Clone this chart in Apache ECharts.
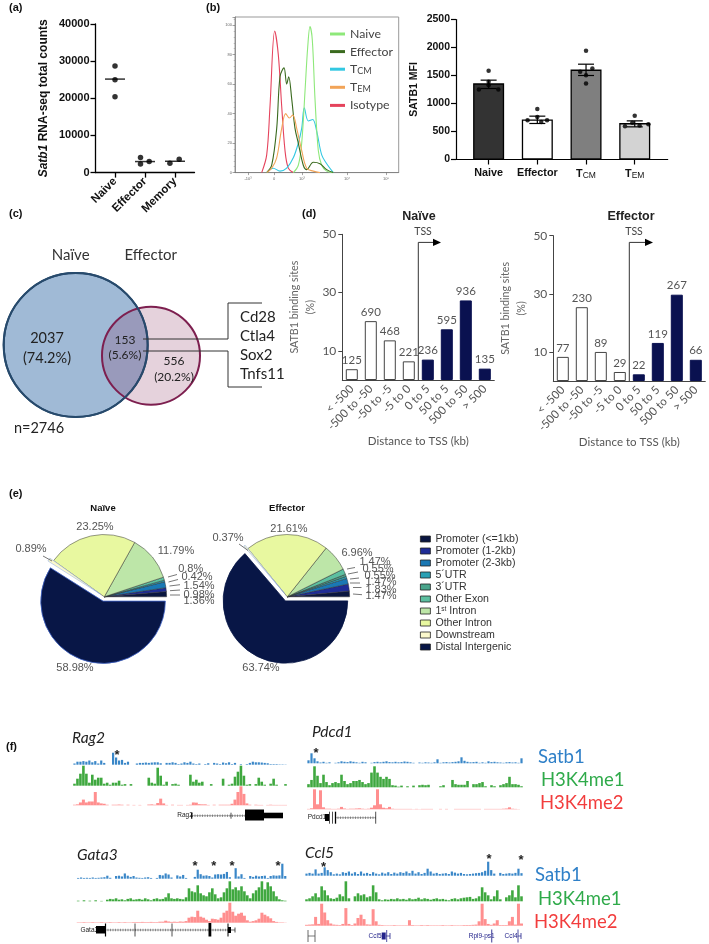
<!DOCTYPE html>
<html><head><meta charset="utf-8">
<script src="https://cdn.jsdelivr.net/npm/echarts@6/dist/echarts.min.js"></script>
<style>html,body{margin:0;padding:0;background:#fff}#c{width:709px;height:944px}</style>
</head><body><div id="c"></div>
<script>
// ---------- panel (a)
const rnaCategories = ['Naive','Effector','Memory'];
const rnaPointsX = [0.65,0.65,0.65,1.5,1.5,1.79,2.48,2.79];
const rnaPointsY = [28700,25000,20400,4045,2340,2970,2517,3595];
const rnaMedians = [25170,2970,3050];
// ---------- panel (b) histogram: [channel, % of max]
const histIsotype = [[26.7,0],[31.7,12],[35,45],[39.7,96],[43.3,80],[46.7,45],[50,15],[53.3,3],[58.3,0]];
const histEffector = [[31.7,0],[36.7,5],[41.7,30],[45,65],[49,71],[51.7,60],[53.7,65],[56.7,50],[60,30],[63.3,20],[68.3,5],[71.7,2],[78.3,7],[85,6],[91.7,2],[98.3,0]];
const histTem = [[31.7,0],[36.7,3],[41.7,10],[46.7,30],[50.7,40],[54.3,37],[57.7,39],[61.7,30],[66.7,15],[71.7,3],[78.3,1],[85,0]];
const histTcm = [[31.7,0],[38.3,3],[45,1],[51.7,3],[58.3,10],[63.3,20],[66.7,30],[69.3,44],[73.3,35],[77.7,36],[81.7,28],[86.7,12],[91.7,6],[98.3,0]];
const histNaive = [[58.3,0],[63.3,5],[66.7,20],[70,55],[72.7,85],[75,99],[77.3,90],[80,50],[83.3,15],[86.7,5],[91.7,1],[98.3,0]];
const histTickValues = [13,39,67,112,151];
const histTickLabels = ['-10³','0','10³','10⁴','10⁵'];
// ---------- panel (b) bars
const mfiCategories = ['Naive','Effector','TCM','TEM'];
const mfiMeans = [1360,715,1605,650];
const mfiUpper = [1417,774,1702,690];
const mfiLower = [1268,643,1500,583];
const mfiPointsX = [0.67,0.67,0.47,0.87,0.67, 1.67,1.67,1.47,1.87,1.75, 2.67,2.8,2.55,2.67,2.67, 3.67,3.47,3.62,3.77,3.95];
const mfiPointsY = [1583,1387,1250,1250,1327, 900,760,700,700,670, 1940,1625,1565,1505,1357, 780,595,655,607,630];
// ---------- panel (c)
const vennCounts = ['2037','153','556'];
const vennPercents = ['(74.2%)','(5.6%)','(20.2%)'];
const vennGenes = ['Cd28','Ctla4','Sox2','Tnfs11'];
// ---------- panel (d)
const tssCategories = ['< -500','-500 to -50','-50 to -5','-5 to 0','0 to 5','50 to 5','500 to 50','> 500'];
const naivePercent = [3.7,20.2,13.6,6.4,7,17.4,27.3,3.9];
const naiveCounts = [125,690,468,221,236,595,936,135];
const effectorPercent = [8.3,25.4,10,3.1,2.3,13.1,29.7,7.3];
const effectorCounts = [77,230,89,29,22,119,267,66];
// ---------- panel (e)
const featureNames = ['Promoter (<=1kb)','Promoter (1-2kb)','Promoter (2-3kb)',"5´UTR","3´UTR",'Other Exon','1st Intron','Other Intron','Downstream','Distal Intergenic'];
const featureColors = ['#0a1640','#1f2c96','#1a78b4','#2aa0b4','#4aa58c','#5cbfa0','#bde6a8','#e8f8a0','#fbf8cc','#081646'];
const naivePie = [1.36,0.98,1.54,0.42,null,0.8,11.79,23.25,0.89,58.98];
const effectorPie = [1.47,1.83,1.47,0.55,0.55,1.47,6.96,21.61,0.37,63.74];
// ---------- panel (f) signal tracks (0-100 of track height)
const rag2Satb1 = [10,25,25,30,25,35,20,30,10,35,15,0,0,100,60,35,40,15,25,0,0,10,15,15,18,15,18,20,20,12,0,15,15,20,15,5,10,20,15,25,10,5,10,0,5,12,0,15,10,5,18,12,20,5,15,0,5,0,5,15,25,20,20,18,15,12,5,5,5,3,3,2];
const rag2H3K4me1 = [10,35,60,100,60,15,55,30,40,40,10,15,5,15,15,25,5,8,0,8,0,0,0,0,0,40,15,10,90,50,5,20,0,8,10,5,0,0,0,55,20,30,15,20,0,0,8,0,0,0,35,0,5,10,45,70,100,50,5,8,0,8,40,20,5,0,10,35,5,0,0,8];
const rag2H3K4me2 = [3,5,15,30,15,20,20,70,15,10,8,3,0,3,3,4,3,0,3,0,2,0,2,0,0,4,5,3,12,35,10,2,0,3,0,2,2,0,2,3,15,14,6,5,5,2,0,3,0,3,3,3,3,8,30,70,100,60,10,3,0,3,2,2,0,2,3,2,2,2,2,2];
const pdcd1Satb1 = [30,100,50,20,8,15,5,10,0,5,10,20,15,12,20,15,10,5,15,10,0,5,12,15,10,15,20,12,10,15,10,12,18,15,10,5,0,8,5,10,8,5,10,40,5,10,12,8,12,15,20,60,25,15,10,12,15,5,10,5,20,12,15,10,8,5,10,12,8,10,5,50];
const pdcd1H3K4me1 = [15,35,100,55,20,60,25,10,20,25,20,60,30,15,20,30,30,35,25,15,20,70,100,70,50,40,50,40,10,8,3,8,0,5,0,8,0,10,12,10,12,0,0,0,5,10,0,0,35,15,12,12,12,30,0,15,15,20,25,5,0,10,5,0,10,15,20,50,15,15,12,5];
const pdcd1H3K4me2 = [2,5,100,25,95,10,3,3,2,2,3,12,4,2,3,3,4,5,3,2,3,8,20,100,25,8,5,12,3,2,2,2,2,2,2,1,2,1,2,2,2,2,0,0,2,0,2,0,0,2,2,2,2,2,2,2,2,2,0,2,2,2,2,2,2,3,4,10,3,2,1,0];
const gata3Satb1 = [5,8,5,6,5,8,5,6,8,10,20,6,0,18,20,15,35,20,12,18,8,6,5,8,10,5,0,5,25,22,35,28,8,0,22,15,25,5,0,0,12,60,30,20,22,18,8,28,30,28,32,45,10,0,70,15,30,5,0,18,12,20,15,18,20,5,18,22,20,22,100,18];
const gata3H3K4me1 = [3,0,5,0,3,0,5,0,2,0,8,12,10,15,8,10,5,12,15,8,10,12,8,15,10,5,12,15,10,12,20,40,15,12,15,12,10,20,65,50,45,80,40,30,25,45,65,35,15,20,45,65,100,60,70,55,75,50,30,15,40,55,70,100,60,95,75,50,25,10,5,3];
const gata3H3K4me2 = [2,2,3,2,2,3,2,2,3,2,2,3,2,2,3,2,3,2,2,3,3,3,4,3,3,4,3,3,5,5,10,6,4,5,4,6,5,8,25,30,28,60,30,25,15,8,20,18,15,25,50,60,100,55,35,45,50,35,12,5,8,12,20,50,40,32,22,8,4,2,2,1];
const ccl5Satb1 = [15,20,15,45,15,20,60,40,25,10,15,10,25,20,30,15,25,12,30,15,20,12,25,15,10,22,15,25,12,22,15,25,20,30,18,35,15,25,12,20,50,30,15,20,12,15,18,12,30,22,15,20,12,10,12,15,18,20,25,35,100,40,15,0,20,12,15,18,15,20,50,18];
const ccl5H3K4me1 = [10,15,25,40,20,75,55,30,15,12,18,35,25,100,15,0,25,40,30,35,20,25,80,45,10,5,10,8,12,10,15,10,12,8,15,10,12,18,10,15,12,8,12,15,10,12,8,5,12,15,10,15,18,20,22,12,15,25,70,45,30,10,25,55,10,0,20,30,55,20,80,25];
const ccl5H3K4me2 = [4,5,6,40,8,100,60,25,10,5,4,3,8,80,8,3,10,35,50,30,6,5,75,20,4,3,2,2,2,3,2,2,2,2,25,3,2,2,3,2,3,2,2,2,2,3,2,2,3,2,2,2,3,3,3,4,5,20,100,30,8,4,10,25,3,3,3,20,40,5,100,10];

const AR='"Liberation Sans",Arial,sans-serif', LA='Lato,"Open Sans",sans-serif';
const grids=[],xAxes=[],yAxes=[],series=[],gfx=[];
function addGrid(g,x,y){grids.push(g);xAxes.push(Object.assign({gridIndex:grids.length-1},x));yAxes.push(Object.assign({gridIndex:grids.length-1},y));return grids.length-1;}
function txt(x,y,t,font,fill,align,extra){gfx.push(Object.assign({type:'text',x,y,z:20,silent:true,style:{text:t,font,fill:fill||'#333',align:align||'center',verticalAlign:'middle'}},extra||{}));}
function pl(points,stroke,w,z){gfx.push({type:'polyline',z:z||20,silent:true,shape:{points},style:{stroke:stroke||'#333',lineWidth:w||1,fill:null}});}
function rc(x,y,w,h,fill){gfx.push({type:'rect',z:20,silent:true,shape:{x,y,width:w,height:h},style:{fill:fill||'#000'}});}
const hidden={show:false};
const plain=v=>String(v);

// panel letters
[['(a)',9,8],['(b)',206,8],['(c)',9,214],['(d)',302,214],['(e)',9,494],['(f)',6,747]].forEach(p=>txt(p[1],p[2],p[0],'bold 11px '+AR,'#111','left'));

// ---- (a)
let gi=addGrid({left:95.5,top:24,width:99,height:148.6},
 {type:'value',min:0,max:3.3,splitLine:hidden,axisLine:{lineStyle:{color:'#000',width:1.3}},
  axisTick:{show:true,length:5,lineStyle:{color:'#000',width:1.3},customValues:[0.65,1.65,2.65]},
  axisLabel:{customValues:[0.65,1.65,2.65],rotate:45,margin:7,color:'#111',fontFamily:AR,fontWeight:'bold',fontSize:11.5,formatter:v=>rnaCategories[Math.round(v-0.65)]}},
 {type:'value',min:0,max:40000,interval:10000,splitLine:hidden,axisLine:{show:true,lineStyle:{color:'#000',width:1.3}},
  axisTick:{show:true,length:5,lineStyle:{color:'#000',width:1.3}},
  axisLabel:{color:'#111',fontFamily:AR,fontWeight:'bold',fontSize:11,margin:6,formatter:plain},
  name:'{i|Satb1}{b| RNA-seq total counts}',nameLocation:'middle',nameGap:46,nameRotate:90,
  nameTextStyle:{rich:{i:{fontFamily:AR,fontWeight:'bold',fontStyle:'italic',fontSize:12,color:'#111'},b:{fontFamily:AR,fontWeight:'bold',fontSize:12,color:'#111'}}}});
series.push({type:'scatter',xAxisIndex:gi,yAxisIndex:gi,symbolSize:5.5,itemStyle:{color:'#000'},data:rnaPointsX.map((x,i)=>[x,rnaPointsY[i]])});
series.push({type:'scatter',xAxisIndex:gi,yAxisIndex:gi,symbol:'rect',symbolSize:[20,1.5],itemStyle:{color:'#000'},data:rnaMedians.map((v,i)=>[i+0.65,v])});

// ---- (b) histogram
gi=addGrid({left:235,top:17,width:163.7,height:155.6,show:true,borderColor:'#999',borderWidth:1},
 {type:'value',min:0,max:163.7,splitLine:hidden,axisLine:{lineStyle:{color:'#777',width:.7}},
  axisTick:{customValues:histTickValues,length:2.5,lineStyle:{color:'#666',width:.6}},minorTick:{show:false},
  axisLabel:{customValues:histTickValues,fontSize:4,margin:4,color:'#666',fontFamily:AR,formatter:v=>histTickLabels[histTickValues.indexOf(v)]}},
 {type:'value',min:0,max:105.5,interval:20,splitLine:hidden,axisLine:{show:true,lineStyle:{color:'#777',width:.7}},
  axisTick:{show:true,length:2.5,lineStyle:{color:'#666',width:.6}},minorTick:{show:true,splitNumber:5,length:1.3,lineStyle:{color:'#888',width:.5}},
  axisLabel:{fontSize:4,margin:3,color:'#666',fontFamily:AR,showMaxLabel:false}});
const histColors={Naive:'#8ee87a',Effector:'#3a6a1e',TCM:'#33c8e2',TEM:'#f2a458',Isotype:'#e5435c'};
[['Isotype',histIsotype],['TCM',histTcm],['Naive',histNaive],['Effector',histEffector],['TEM',histTem]].forEach(s=>{
 series.push({type:'line',name:s[0],xAxisIndex:gi,yAxisIndex:gi,data:s[1],smooth:0.35,showSymbol:false,itemStyle:{color:histColors[s[0]]},lineStyle:{color:histColors[s[0]],width:1.1}});
});

// ---- (b) bars
gi=addGrid({left:456,top:19.5,width:211.7,height:140},
 {type:'value',min:0,max:4.347,splitLine:hidden,axisLine:{lineStyle:{color:'#000',width:1.2}},
  axisTick:{customValues:[.67,1.67,2.67,3.67],length:5,lineStyle:{color:'#000',width:1.2}},
  axisLabel:{customValues:[.67,1.67,2.67,3.67],margin:8,hideOverlap:false,formatter:v=>{const n=mfiCategories[Math.round(v-.67)];return n[0]==='T'&&n.length===3?'{b|T}{s|'+n.slice(1)+'}':'{b|'+n+'}';},
   rich:{b:{fontFamily:AR,fontWeight:'bold',fontSize:10.8,color:'#111'},s:{fontFamily:AR,fontSize:8.5,color:'#111',padding:[4,0,0,0]}}}},
 {type:'value',min:0,max:2500,interval:500,splitLine:hidden,axisLine:{show:true,lineStyle:{color:'#000',width:1.2}},
  axisTick:{show:true,length:5,lineStyle:{color:'#000',width:1.2}},
  axisLabel:{color:'#111',fontFamily:AR,fontWeight:'bold',fontSize:10.5,margin:6,formatter:plain},
  name:'SATB1 MFI',nameLocation:'middle',nameGap:36,nameRotate:90,nameTextStyle:{fontFamily:AR,fontWeight:'bold',fontSize:10.5,color:'#111'}});
const mfiColors=['#333333','#ffffff','#7f7f7f','#d3d3d3'];
series.push({type:'bar',xAxisIndex:gi,yAxisIndex:gi,barWidth:31,data:mfiMeans.map((v,i)=>({value:[i+.67,v],itemStyle:{color:mfiColors[i],borderColor:'#000',borderWidth:1.3}}))});
series.push({type:'custom',xAxisIndex:gi,yAxisIndex:gi,z:5,data:mfiMeans.map((v,i)=>[i+.67,mfiLower[i],mfiUpper[i]]),
 renderItem:(p,api)=>{const a=api.coord([api.value(0),api.value(1)]),b=api.coord([api.value(0),api.value(2)]);const w=8;const st={stroke:'#000',lineWidth:1.2};
  return {type:'group',children:[{type:'line',shape:{x1:a[0],y1:a[1],x2:b[0],y2:b[1]},style:st},{type:'line',shape:{x1:a[0]-w,y1:a[1],x2:a[0]+w,y2:a[1]},style:st},{type:'line',shape:{x1:b[0]-w,y1:b[1],x2:b[0]+w,y2:b[1]},style:st}]};}});
series.push({type:'scatter',xAxisIndex:gi,yAxisIndex:gi,z:6,symbolSize:4.5,itemStyle:{color:'#000'},data:mfiPointsX.map((x,i)=>[x,mfiPointsY[i]])});

// ---- (c) Venn
gi=addGrid({left:0,top:240,width:260,height:200},{type:'value',min:0,max:260,show:false},{type:'value',min:0,max:200,inverse:true,show:false});
series.push({type:'scatter',xAxisIndex:gi,yAxisIndex:gi,z:2,symbolSize:144,itemStyle:{color:'#a0bad6',borderColor:'#274a6c',borderWidth:2,opacity:1},data:[[75.7,105]]});
series.push({type:'scatter',xAxisIndex:gi,yAxisIndex:gi,z:3,symbolSize:98,itemStyle:{color:'rgba(125,31,79,0.2)',borderColor:'#7d1f4f',borderWidth:2,opacity:1},data:[[151,115.7]]});
series.push({type:'scatter',xAxisIndex:gi,yAxisIndex:gi,z:4,symbolSize:144,itemStyle:{color:'rgba(0,0,0,0)',borderColor:'#274a6c',borderWidth:2,opacity:1},data:[[75.7,105]]});
txt(70.7,255,'Naïve','15px '+LA,'#333');txt(150.7,255,'Effector','15px '+LA,'#333');
txt(47,338,vennCounts[0],'14.5px '+LA,'#222');txt(47,358,vennPercents[0],'14.5px '+LA,'#222');
txt(125,340,vennCounts[1],'12px '+LA,'#222');txt(125,355,vennPercents[1],'12px '+LA,'#222');
txt(174,361,vennCounts[2],'12px '+LA,'#222');txt(174,377,vennPercents[2],'12px '+LA,'#222');
txt(39,428,'n=2746','14.5px '+LA,'#222','center');
vennGenes.forEach((g,i)=>txt(240,317+i*19,g,'15px '+LA,'#222','left'));
pl([[143,339],[228,339],[228,303],[262,303]],'#333',1);pl([[143,351],[228,351],[228,387],[262,387]],'#333',1);

// ---- (d)
function tssPanel(left,top,base,title,titleX,pct,counts){
 const g=addGrid({left,top,width:152,height:base-top},
 {type:'category',data:tssCategories,axisLine:{lineStyle:{color:'#444',width:1}},axisTick:{alignWithLabel:true,length:4,lineStyle:{color:'#444'}},
  axisLabel:{interval:0,rotate:45,margin:7,fontFamily:LA,fontSize:11.5,color:'#555'},name:'Distance to TSS (kb)',nameLocation:'middle',nameGap:52,nameTextStyle:{fontFamily:LA,fontSize:11.5,color:'#555'}},
 {type:'value',min:0,max:50,splitLine:hidden,axisLine:{show:true,lineStyle:{color:'#444',width:1}},
  axisTick:{show:true,customValues:[10,30,50],length:4,lineStyle:{color:'#444'}},axisLabel:{customValues:[10,30,50],fontFamily:LA,fontSize:12,color:'#555',margin:6},
  name:'SATB1 binding sites\n(%)',nameLocation:'middle',nameGap:21,nameRotate:90,nameTextStyle:{fontFamily:LA,fontSize:10.7,lineHeight:16,color:'#666'}});
 series.push({type:'bar',xAxisIndex:g,yAxisIndex:g,barWidth:12,data:pct.map((v,i)=>({value:v,itemStyle:i<4?{color:'#fff',borderColor:'#444',borderWidth:1}:{color:'#0a1150',borderColor:'#0a1150',borderWidth:1},
  label:{show:true,position:'top',distance:3,formatter:String(counts[i]),fontFamily:LA,fontSize:11.5,color:'#555'}}))});
 txt(titleX,217,title,'bold 12.5px '+AR,'#222');
}
tssPanel(342.3,234.3,380,'Naïve',419,naivePercent,naiveCounts);
tssPanel(553.3,235.7,381,'Effector',631,effectorPercent,effectorCounts);
[[418.3,380,433,232,423],[629.3,381,645,232,634]].forEach(a=>{
 pl([[a[0],a[1]],[a[0],242.4],[a[2]+2,242.4]],'#333',1);
 gfx.push({type:'polygon',z:20,silent:true,shape:{points:[[a[2],238.8],[a[2]+8,242.4],[a[2],246]]},style:{fill:'#000'}});
 txt(a[4],232,'TSS','10.5px '+LA,'#444');
});

// ---- (e)
const labelPosNaive={0:[199,601],1:[199,594.6],2:[199,586],3:[197,577],5:[190.7,569],6:[176,551],7:[95,527],8:[31,549],9:[75,668]};
const labelPosEff={0:[381,596],1:[381,590],2:[381,582],3:[380,575.5],4:[378,569],5:[375,562],6:[357,553],7:[289,529],8:[228,537.7],9:[261,668]};
function pieSeries(cx,cy,vals,pos,distalBorder){
 const items=[];vals.forEach((v,i)=>{if(v===null)return;items.push({idx:i,name:featureNames[i],value:v});});
 series.push({type:'pie',center:[cx,cy],radius:[0,62.3],startAngle:0,clockwise:false,selectedMode:'multiple',selectedOffset:4.5,silent:true,minAngle:0,
  data:items.map(o=>({name:o.name,value:o.value,selected:o.idx>=8,
   itemStyle:{color:featureColors[o.idx],borderColor:o.idx===9?distalBorder:(o.idx===8?'#8aa8e8':'#333'),borderWidth:o.idx===9?.8:.5}})),
  label:{show:false},labelLine:{show:false}});
 items.forEach(o=>{const q=pos[o.idx];txt(q[0],q[1],o.value+'%','11px '+AR,'#555');});
}
pieSeries(104.3,596.8,naivePie,labelPosNaive,'#3d62c8');
pieSeries(287.3,596.8,effectorPie,labelPosEff,'#081646');
txt(103,508,'Naïve','bold 9.5px '+AR,'#111');txt(287,508,'Effector','bold 9.5px '+AR,'#111');
[[[168,577],[177,574.5]],[[168.5,582],[178,579.5]],[[169.5,586],[180,584.7]],[[170,590.7],[180,590]],[[170,595],[180,595]],[[43,556],[52,561]],
 [[347,569],[355,567.5]],[[348,574],[358,572]],[[350,579],[359,578]],[[350,583],[360,583]],[[353,587.5],[361.5,587.5]],[[353,594],[362,594.7]],[[239,544],[248,550.5]]].forEach(l=>pl(l,'#555',.8));

// ---- (f)
function track(left,width,base,h,vals,color,bw){
 const g=addGrid({left,top:base-h,width,height:h},{type:'category',show:false,data:vals.map((_,i)=>i)},{type:'value',min:0,max:100,show:false});
 series.push({type:'bar',xAxisIndex:g,yAxisIndex:g,data:vals,barWidth:bw,itemStyle:{color}});
}
const B='#3a87c8',G='#3fa83f',P='#ff8f8f';
function trio(left,width,b1,h1,v1,b2,h2,v2,b3,h3,v3){track(left,width,b1,h1,v1,B,2.2);track(left,width,b2,h2,v2,G,2.6);track(left,width,b3,h3,v3,P,3);}
trio(73,214,764.7,12,rag2Satb1,785.7,20,rag2H3K4me1,805.3,19,rag2H3K4me2);
trio(307,216,763.3,10,pdcd1Satb1,787.3,21,pdcd1H3K4me1,809.3,20,pdcd1H3K4me2);
trio(76.7,210,878.7,15,gata3Satb1,901.3,20,gata3H3K4me1,922.7,20,gata3H3K4me2);
trio(305,218,875.7,14,ccl5Satb1,901.3,20,ccl5H3K4me1,925.7,22,ccl5H3K4me2);
const IT='italic 15.5px '+LA;
txt(72,738,'Rag2',IT,'#222','left');txt(312,732,'Pdcd1',IT,'#222','left');txt(77,855,'Gata3',IT,'#222','left');txt(305,853,'Ccl5',IT,'#222','left');
[[117,755],[316,753],[195,866],[213.7,866],[232,866],[278,866],[323.6,867],[489,859],[521,860]].forEach(s=>txt(s[0],s[1],'*','bold 13px '+AR,'#222'));
const L='18.5px '+LA;
txt(538,757,'Satb1',L,'#2f80c8','left');txt(541,780,'H3K4me1',L,'#2faa4a','left');txt(540,803,'H3K4me2',L,'#f23d3d','left');
txt(535,875,'Satb1',L,'#2f80c8','left');txt(538,899,'H3K4me1',L,'#2faa4a','left');txt(534,922,'H3K4me2',L,'#f23d3d','left');
const GL='6.5px "Liberation Sans Narrow",'+AR;
function intron(x1,x2,y){gfx.push({type:'line',z:19,silent:true,shape:{x1,y1:y,x2,y2:y},style:{stroke:'#999',lineWidth:2.5,lineDash:[1,1.5]}});pl([[x1,y],[x2,y]],'#555',.5);}
function vt(x,y,h,c,w){pl([[x,y-h],[x,y+h]],c||'#222',w||.8);}
// Rag2 gene
txt(185,815.7,'Rag2',GL,'#222');intron(192,245,815.7);vt(191.7,815.7,3,'#000',1.2);vt(231,815.7,3);rc(245,809.5,19,11);rc(264,812.7,19,5.6);
// Pdcd1 gene
txt(317,817.7,'Pdcd1',GL,'#222');intron(335,375.7,817.7);rc(325,814,4,7);vt(329.5,817.7,6);vt(332.5,817.7,6);vt(335.5,817.7,6,'#000',1.3);vt(375.7,817.7,6);
// Gata3 gene
txt(89.3,930,'Gata3',GL,'#222');intron(105,228,930);rc(96,926,9,7.5);vt(105.5,930,6.5,'#000',1.2);vt(135,930,6.5);vt(172,930,6.5);rc(208.5,923,2.8,13.5);vt(228,930,6.5,'#000',1);rc(228,927,3,6);vt(235,930,2.5);pl([[231,930],[235,930]],'#222',.7);
// Ccl5 locus
const DB='#22228a';
pl([[308,936],[315,936]],'#444',.7);vt(308,936,6,'#444');vt(315,936,6,'#444');
txt(375,936,'Ccl5',GL,'#22228a');rc(381.7,932.5,4,7,DB);vt(386.7,936,6,DB);pl([[386,936],[390,936]],DB,.7);vt(390,936,3,DB);
txt(481.7,936,'Rpl9-ps1',GL,'#22228a');vt(491.7,936,6.5,'#5a5aa8',1.2);
txt(511,936,'Ccl4',GL,'#22228a');vt(518,936,6.5,DB);pl([[518,936],[521,936]],DB,.7);vt(521,936,3,DB);

const chart=echarts.init(document.getElementById('c'),null,{renderer:'canvas'});
chart.setOption({animation:false,backgroundColor:'#fff',tooltip:{show:false},grid:grids,xAxis:xAxes,yAxis:yAxes,series,
 graphic:{elements:gfx},
 legend:[
  {orient:'vertical',left:330,top:28,padding:0,itemWidth:15,itemHeight:3,itemGap:5.6,icon:'rect',selectedMode:false,
   data:['Naive','Effector','TCM','TEM','Isotype'],
   formatter:n=>n==='TCM'||n==='TEM'?'{n|T}{s|'+n.slice(1)+'}':'{n|'+n+'}',
   textStyle:{rich:{n:{fontFamily:LA,fontSize:12.3,color:'#444'},s:{fontFamily:LA,fontSize:9,color:'#444',padding:[4,0,0,0]}}}},
  {orient:'vertical',left:420,top:533.5,padding:0,itemWidth:10,itemHeight:6,itemGap:1,icon:'rect',selectedMode:false,
   data:featureNames,itemStyle:{borderColor:'#222',borderWidth:.8},
   formatter:n=>n==='1st Intron'?'{n|1}{u|st}{n| Intron}':'{n|'+n+'}',
   textStyle:{rich:{n:{fontFamily:AR,fontSize:10.6,color:'#333'},u:{fontFamily:AR,fontSize:6.5,color:'#333',padding:[0,0,3,0]}}}}
 ]});
</script></body></html>
